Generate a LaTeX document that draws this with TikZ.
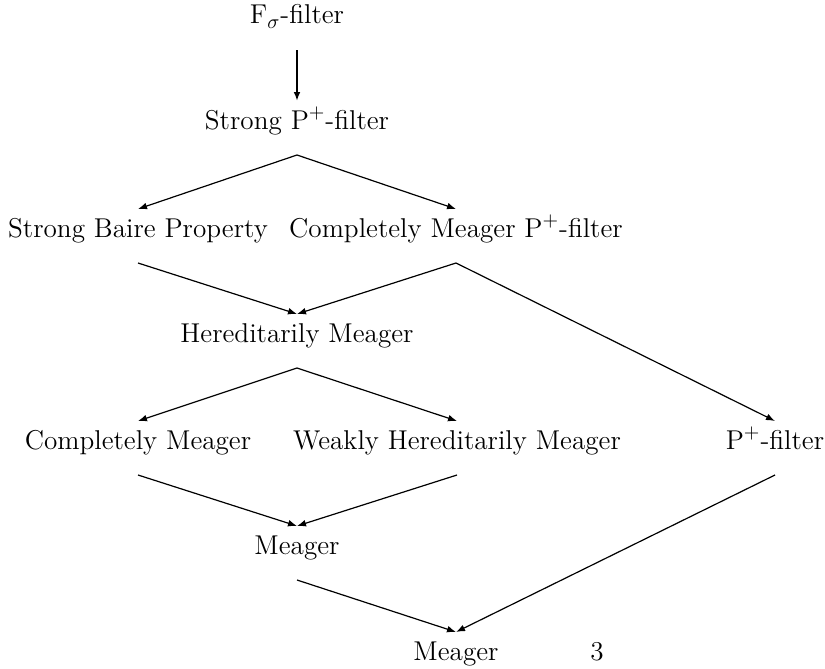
\documentclass[tikz,border=0pt]{standalone}
\usetikzlibrary{arrows.meta}
\begin{document}
\begin{tikzpicture}[x=0.5pt,y=-0.5pt,
  lbl/.style={anchor=base,inner xsep=0pt,inner ysep=0pt,outer sep=0pt,
    text height=14pt,text depth=13pt,font=\fontsize{13.6}{16}\selectfont},
  arr/.style={-{Latex[length=4.5pt,width=3.4pt]},line width=0.6pt}]
\useasboundingbox (0,0) rectangle (825,669);
\node[lbl] (f) at (297,24) {F$_\sigma$-filter};
\node[lbl] (sp) at (297,129) {Strong P$^+$-filter};
\node[lbl] (sb) at (138,237) {Strong Baire Property};
\node[lbl] (cmp) at (456,237) {Completely Meager P$^+$-filter};
\node[lbl] (hm) at (297,342) {Hereditarily Meager};
\node[lbl] (cm) at (138,449) {Completely Meager};
\node[lbl] (whm) at (457,449) {Weakly Hereditarily Meager};
\node[lbl] (pp) at (775,449) {P$^+$-filter};
\node[lbl] (m1) at (297,554) {Meager};
\node[lbl] (m2) at (456,660) {Meager};
\node[lbl] (pg) at (597,660) {3};
\draw[arr,line width=0.9pt] (f.south) -- (sp.north);
\draw[arr] (sp.south) -- (sb.north);
\draw[arr] (sp.south) -- (cmp.north);
\draw[arr] (sb.south) -- (hm.north);
\draw[arr] (cmp.south) -- (hm.north);
\draw[arr] (cmp.south) -- (pp.north);
\draw[arr] (hm.south) -- (cm.north);
\draw[arr] (hm.south) -- (whm.north);
\draw[arr] (cm.south) -- (m1.north);
\draw[arr] (whm.south) -- (m1.north);
\draw[arr] (pp.south) -- (m2.north);
\draw[arr] (m1.south) -- (m2.north);
\end{tikzpicture}
\end{document}
